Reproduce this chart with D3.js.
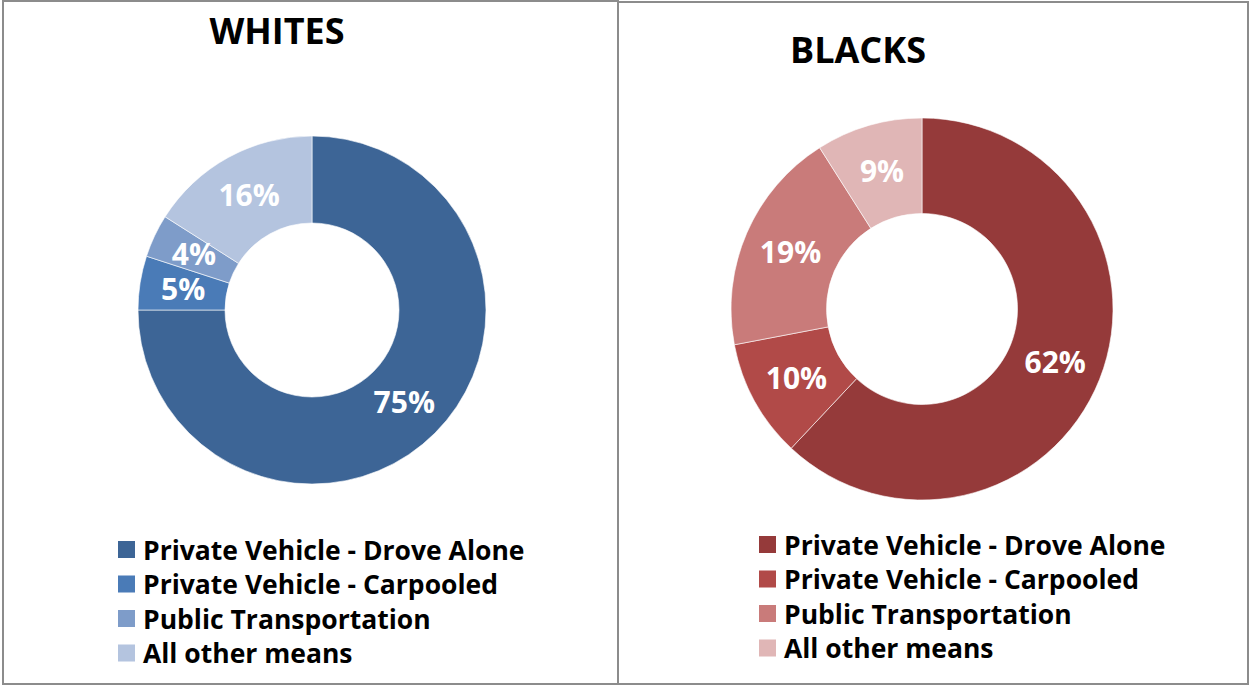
<!DOCTYPE html>
<html>
<head>
<meta charset="utf-8">
<script src="https://cdn.jsdelivr.net/npm/d3@7"></script>
<style>
  html, body { margin: 0; padding: 0; background: #fff; }
  svg { display: block; }
  text { font-family: "Open Sans", Lato, sans-serif; font-weight: bold; }
</style>
</head>
<body>
<svg id="chart" width="1250" height="686"></svg>
<script>
// Commute mode shares (%) by group
const categories = [
  "Private Vehicle - Drove Alone",
  "Private Vehicle - Carpooled",
  "Public Transportation",
  "All other means"
];
const whitesValues = [75, 5, 4, 16];
const blacksValues = [62, 10, 19, 9];
const whitesColors = ["#3d6596", "#4a7bb7", "#7e9cc9", "#b4c4df"];
const blacksColors = ["#953a3a", "#b14a48", "#c97b7a", "#e0b6b6"];

const svg = d3.select("#chart");

// Panel frames
const panels = [
  { title: "WHITES", values: whitesValues, colors: whitesColors,
    frame: [3, 1, 615, 683], cx: 312, cy: 310, r: 174,
    titleX: 277, titleY: 44, legendX: 118, legendY: 550 },
  { title: "BLACKS", values: blacksValues, colors: blacksColors,
    frame: [618, 2, 630, 682], cx: 922, cy: 309, r: 191,
    titleX: 858, titleY: 63, legendX: 759, legendY: 545 }
];

panels.forEach(p => {
  svg.append("rect")
    .attr("x", p.frame[0]).attr("y", p.frame[1])
    .attr("width", p.frame[2]).attr("height", p.frame[3])
    .attr("fill", "none").attr("stroke", "#8c8c8c").attr("stroke-width", 2);
});

panels.forEach(p => {
  const g = svg.append("g");

  g.append("text")
    .attr("x", p.titleX).attr("y", p.titleY)
    .attr("text-anchor", "middle")
    .attr("font-size", 36)
    .attr("fill", "#000")
    .text(p.title);

  const data = categories.map((c, i) => ({ name: c, value: p.values[i], color: p.colors[i] }));
  const pie = d3.pie().sort(null).value(d => d.value);
  const inner = p.r * 0.5;
  const arc = d3.arc().innerRadius(inner).outerRadius(p.r);
  const labelArc = d3.arc().innerRadius((inner + p.r) / 2).outerRadius((inner + p.r) / 2);

  const donut = g.append("g").attr("transform", `translate(${p.cx},${p.cy})`);
  const arcs = pie(data);

  donut.selectAll("path")
    .data(arcs)
    .join("path")
    .attr("d", arc)
    .attr("fill", d => d.data.color)
    .attr("stroke", "#fff")
    .attr("stroke-width", 0.6);

  donut.selectAll("text.lbl")
    .data(arcs)
    .join("text")
    .attr("class", "lbl")
    .attr("transform", d => `translate(${labelArc.centroid(d)})`)
    .attr("text-anchor", "middle")
    .attr("dy", "0.36em")
    .attr("font-size", 30)
    .attr("fill", "#fff")
    .text(d => d.data.value + "%");

  // Legend
  const rowStep = 34.5;
  const leg = g.append("g").attr("transform", `translate(${p.legendX},${p.legendY})`);
  const rows = leg.selectAll("g")
    .data(data)
    .join("g")
    .attr("transform", (d, i) => `translate(0,${i * rowStep})`);
  rows.append("rect")
    .attr("x", 0).attr("y", -9)
    .attr("width", 17).attr("height", 17)
    .attr("fill", d => d.color);
  rows.append("text")
    .attr("x", 25).attr("y", 0)
    .attr("dy", "0.36em")
    .attr("font-size", 26.5)
    .attr("fill", "#000")
    .text(d => d.name);
});
</script>
</body>
</html>
